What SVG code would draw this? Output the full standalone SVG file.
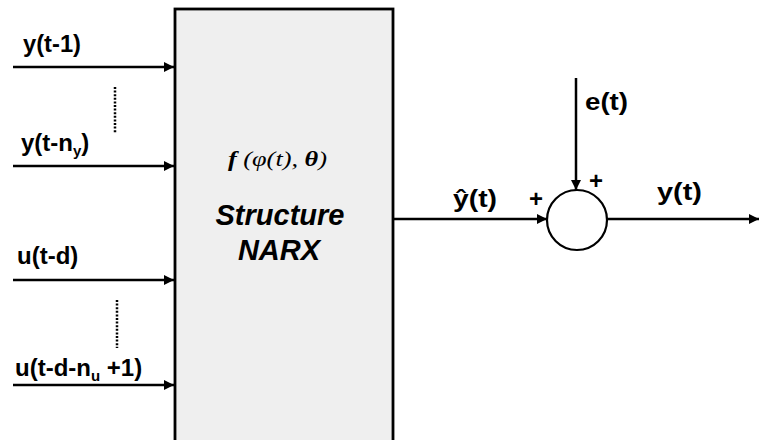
<svg xmlns="http://www.w3.org/2000/svg" width="759" height="440" viewBox="0 0 759 440">
<style>
.lbl{font-family:"Liberation Sans",Arial,sans-serif;font-weight:bold;font-size:24px;fill:#000}
.sub{font-size:15px}
.big{font-family:"Liberation Sans",Arial,sans-serif;font-weight:bold;font-style:italic;font-size:29px;fill:#000}
.math{font-family:"Liberation Serif","Times New Roman",serif;font-style:italic;font-size:22px;fill:#000}
.wire{stroke:#000;stroke-width:2.5;fill:none}
.dot{stroke:#000;stroke-width:2.5;stroke-dasharray:2 1.6;fill:none}
</style>
<defs>
<marker id="ah" viewBox="0 0 10 10" refX="10" refY="5" markerWidth="12" markerHeight="10" markerUnits="userSpaceOnUse" orient="auto">
<path d="M0,0 L10,5 L0,10 z" fill="#000"/>
</marker>
</defs>
<rect width="759" height="440" fill="#fff"/>
<g id="narx">
<rect x="175" y="9" width="218" height="440" fill="#efefef" stroke="#000" stroke-width="2.8"/>
<text class="math" x="228" y="166" textLength="99" lengthAdjust="spacingAndGlyphs"><tspan font-weight="bold">f</tspan> (φ(t), <tspan font-weight="bold">θ</tspan>)</text>
<text class="big" x="280" y="225" text-anchor="middle">Structure</text>
<text class="big" x="279" y="260" text-anchor="middle">NARX</text>
</g>
<g id="sum">
<circle cx="577" cy="220" r="30" fill="#fff" stroke="#000" stroke-width="2.2"/>
</g>
<g id="connectors">
<line class="wire" x1="13" y1="67" x2="174" y2="67" marker-end="url(#ah)"/>
<line class="wire" x1="13" y1="166" x2="174" y2="166" marker-end="url(#ah)"/>
<line class="wire" x1="13" y1="280" x2="174" y2="280" marker-end="url(#ah)"/>
<line class="wire" x1="13" y1="385" x2="174" y2="385" marker-end="url(#ah)"/>
<line class="dot" x1="115" y1="87" x2="115" y2="133"/>
<line class="dot" x1="117" y1="300" x2="117" y2="348"/>
<line class="wire" x1="394" y1="219" x2="547" y2="219" marker-end="url(#ah)"/>
<line class="wire" x1="576" y1="78" x2="576" y2="190" marker-end="url(#ah)"/>
<line class="wire" x1="607" y1="219" x2="759" y2="219" marker-end="url(#ah)"/>
</g>
<g id="labels">
<text class="lbl" x="23" y="52" textLength="58" lengthAdjust="spacingAndGlyphs">y(t-1)</text>
<text class="lbl" x="21" y="151">y(t-n<tspan class="sub" dy="5">y</tspan><tspan dy="-5">)</tspan></text>
<text class="lbl" x="17" y="264">u(t-d)</text>
<text class="lbl" x="15" y="376">u(t-d-n<tspan class="sub" dy="5">u</tspan><tspan dy="-5"> +1)</tspan></text>
<text class="lbl" x="453" y="207" textLength="44" lengthAdjust="spacingAndGlyphs">ŷ(t)</text>
<text class="lbl" x="585" y="110" textLength="43" lengthAdjust="spacingAndGlyphs">e(t)</text>
<text class="lbl" x="657" y="200" textLength="45" lengthAdjust="spacingAndGlyphs">y(t)</text>
<text class="lbl" x="529" y="207" font-size="20">+</text>
<text class="lbl" x="589" y="189" font-size="20">+</text>
</g>
</svg>
